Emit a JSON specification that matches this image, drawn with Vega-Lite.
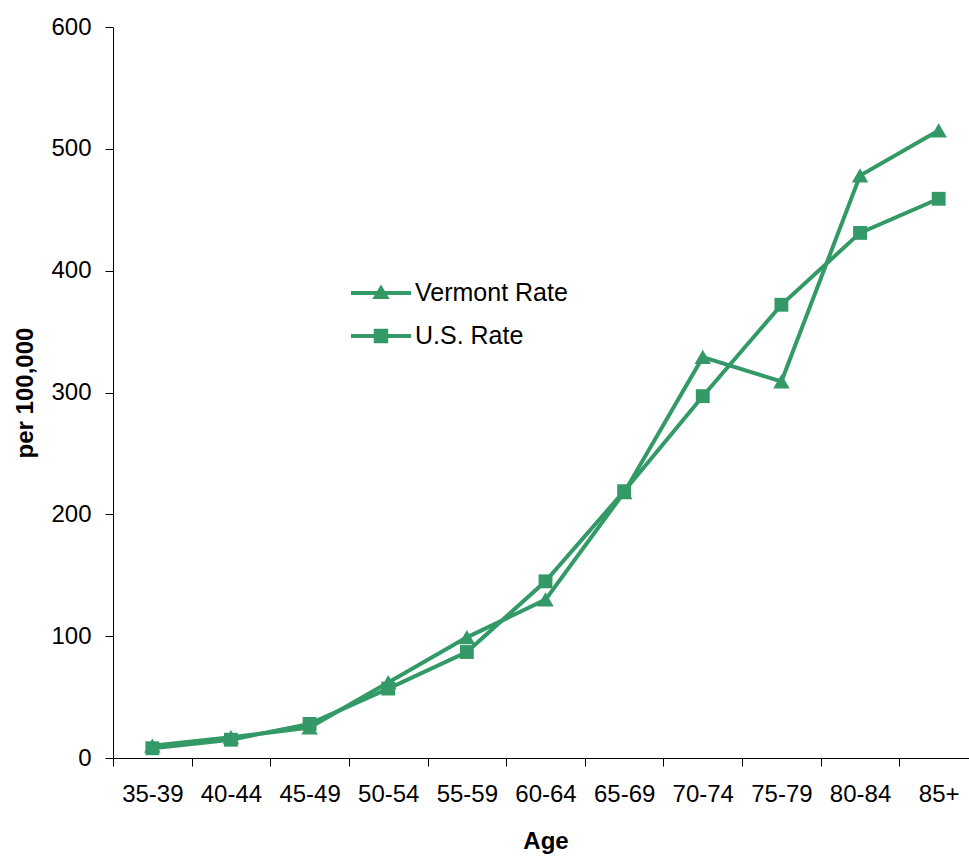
{
  "$schema": "https://vega.github.io/schema/vega-lite/v6.json",
  "width": 865,
  "height": 731,
  "padding": {"left": 13, "top": 15, "right": 0, "bottom": 5},
  "background": "white",
  "config": {
    "view": {"stroke": null},
    "font": "Liberation Sans",
    "axis": {"grid": false, "domainColor": "black", "tickColor": "black", "labelColor": "black", "titleColor": "black", "labelFontSize": 24, "titleFontSize": 24, "titleFontWeight": "bold", "labelFont": "Liberation Sans", "titleFont": "Liberation Sans", "domainWidth": 1, "tickWidth": 1}
  },
  "data": {
    "values": [
      {"age": "35-39", "series": "Vermont Rate", "rate": 10},
      {"age": "40-44", "series": "Vermont Rate", "rate": 17},
      {"age": "45-49", "series": "Vermont Rate", "rate": 25},
      {"age": "50-54", "series": "Vermont Rate", "rate": 62},
      {"age": "55-59", "series": "Vermont Rate", "rate": 99},
      {"age": "60-64", "series": "Vermont Rate", "rate": 130},
      {"age": "65-69", "series": "Vermont Rate", "rate": 218},
      {"age": "70-74", "series": "Vermont Rate", "rate": 329},
      {"age": "75-79", "series": "Vermont Rate", "rate": 309},
      {"age": "80-84", "series": "Vermont Rate", "rate": 478},
      {"age": "85+", "series": "Vermont Rate", "rate": 515},
      {"age": "35-39", "series": "U.S. Rate", "rate": 8},
      {"age": "40-44", "series": "U.S. Rate", "rate": 15},
      {"age": "45-49", "series": "U.S. Rate", "rate": 28},
      {"age": "50-54", "series": "U.S. Rate", "rate": 57},
      {"age": "55-59", "series": "U.S. Rate", "rate": 87},
      {"age": "60-64", "series": "U.S. Rate", "rate": 145},
      {"age": "65-69", "series": "U.S. Rate", "rate": 219},
      {"age": "70-74", "series": "U.S. Rate", "rate": 297},
      {"age": "75-79", "series": "U.S. Rate", "rate": 372},
      {"age": "80-84", "series": "U.S. Rate", "rate": 431},
      {"age": "85+", "series": "U.S. Rate", "rate": 459}
    ]
  },
  "encoding": {
    "x": {
      "field": "age", "type": "ordinal", "sort": null,
      "scale": {"type": "band", "paddingInner": 0, "paddingOuter": 0},
      "axis": {"title": "Age", "labelAngle": 0, "tickBand": "extent", "tickSize": 8, "labelPadding": 16, "titlePadding": 23}
    },
    "y": {
      "field": "rate", "type": "quantitative",
      "scale": {"domain": [0, 600], "nice": false},
      "axis": {"title": "per 100,000", "values": [0, 100, 200, 300, 400, 500, 600], "tickSize": 8, "labelPadding": 14, "titlePadding": 13}
    }
  },
  "layer": [
    {
      "mark": {"type": "line", "color": "#339966", "strokeWidth": 4},
      "encoding": {"detail": {"field": "series"}}
    },
    {
      "mark": {"type": "point", "filled": true, "color": "#339966", "opacity": 1, "size": 300},
      "encoding": {
        "shape": {
          "field": "series", "type": "nominal",
          "scale": {"domain": ["Vermont Rate", "U.S. Rate"], "range": ["M0,-0.85L0.95,0.8H-0.95Z", "M-0.8,-0.8H0.8V0.8H-0.8Z"]},
          "legend": null
        }
      }
    },
    {
      "transform": [{"filter": "false"}],
      "mark": {"type": "point", "filled": true, "color": "#339966", "opacity": 1, "size": 3600},
      "encoding": {
        "shape": {
          "field": "series", "type": "nominal",
          "scale": {"domain": ["Vermont Rate", "U.S. Rate"], "range": ["M-1,-0.065H1V0.065H-1Z M0,-0.28L0.29,0.2H-0.29Z", "M-1,-0.065H1V0.065H-1Z M-0.24,-0.24H0.24V0.24H-0.24Z"]},
          "legend": {
            "title": null,
            "orient": "none",
            "legendX": 238,
            "legendY": 236,
            "labelFontSize": 25,
            "labelFont": "Liberation Sans",
            "labelColor": "black",
            "symbolSize": 3600,
            "symbolStrokeWidth": 0,
            "symbolFillColor": "#339966",
            "symbolOpacity": 1,
            "rowPadding": -23,
            "labelOffset": 4
          }
        }
      }
    }
  ],
  "resolve": {"scale": {"shape": "independent"}}
}
